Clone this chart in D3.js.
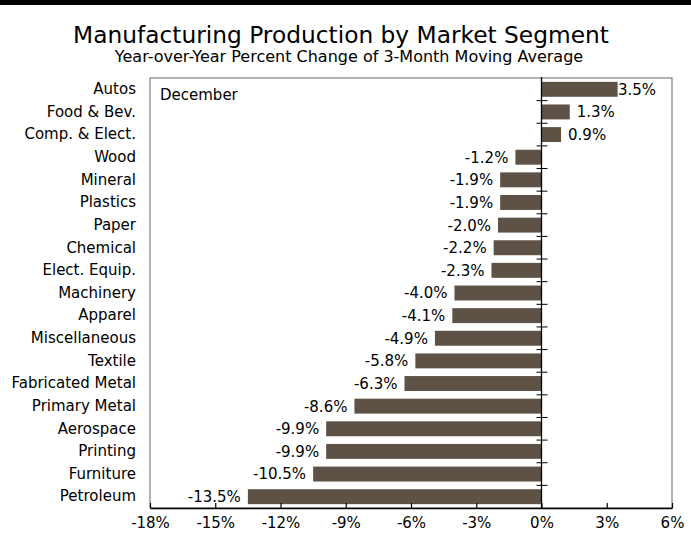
<!DOCTYPE html>
<html>
<head>
<meta charset="utf-8">
<script src="https://cdn.jsdelivr.net/npm/d3@7"></script>
<style>
  body { margin: 0; background: #fff; }
  svg { display: block; }
  svg text { font-family: "DejaVu Sans", Verdana, sans-serif; fill: #000; }
</style>
</head>
<body>
<svg id="chart" width="691" height="535"></svg>
<script>
// chart data, top to bottom
var segments = ["Autos", "Food & Bev.", "Comp. & Elect.", "Wood", "Mineral", "Plastics",
    "Paper", "Chemical", "Elect. Equip.", "Machinery", "Apparel", "Miscellaneous",
    "Textile", "Fabricated Metal", "Primary Metal", "Aerospace", "Printing",
    "Furniture", "Petroleum"];
var changes = [3.5, 1.3, 0.9, -1.2, -1.9, -1.9, -2.0, -2.2, -2.3, -4.0, -4.1, -4.9,
    -5.8, -6.3, -8.6, -9.9, -9.9, -10.5, -13.5];
var xTicks = [-18, -15, -12, -9, -6, -3, 0, 3, 6];

var svg = d3.select("#chart");
var margin = {top: 78, right: 19, bottom: 27, left: 150};
var width = 691 - margin.left - margin.right;
var height = 535 - margin.top - margin.bottom;
var labelSize = "15px";

// black rule along the top
svg.append("line")
    .attr("x1", 0).attr("x2", 691)
    .attr("y1", 2.5).attr("y2", 2.5)
    .attr("stroke", "#000").attr("stroke-width", 5);

svg.append("text")
    .attr("x", 341).attr("y", 43)
    .attr("text-anchor", "middle")
    .style("font-size", "23.3px")
    .text("Manufacturing Production by Market Segment");
svg.append("text")
    .attr("x", 349).attr("y", 62)
    .attr("text-anchor", "middle")
    .style("font-size", "16px")
    .text("Year-over-Year Percent Change of 3-Month Moving Average");

var g = svg.append("g").attr("transform", "translate(" + margin.left + "," + margin.top + ")");

var x = d3.scaleLinear().domain([-18, 6]).range([0, width]);
var y = d3.scaleBand().domain(segments).range([0, height]).paddingInner(0.34).paddingOuter(0.17);

// frame
g.append("rect")
    .attr("x", 0).attr("y", 0)
    .attr("width", width).attr("height", height)
    .attr("fill", "none")
    .attr("stroke", "#808080")
    .attr("stroke-width", 1.2);

g.append("text")
    .attr("x", 10).attr("y", 22)
    .style("font-size", labelSize)
    .text("December");

// bars
g.selectAll("rect.bar")
    .data(changes)
    .enter().append("rect")
    .attr("class", "bar")
    .attr("x", function (d) { return x(Math.min(0, d)); })
    .attr("y", function (d, i) { return y(segments[i]); })
    .attr("width", function (d) { return Math.abs(x(d) - x(0)); })
    .attr("height", y.bandwidth())
    .attr("fill", "#5e5246");

// value labels
g.selectAll("text.val")
    .data(changes)
    .enter().append("text")
    .attr("class", "val")
    .attr("x", function (d) { return d < 0 ? x(d) - 7 : Math.min(x(d) + 7, width - 54); })
    .attr("y", function (d, i) { return y(segments[i]) + y.bandwidth() / 2; })
    .attr("dy", "0.36em")
    .attr("text-anchor", function (d) { return d < 0 ? "end" : "start"; })
    .style("font-size", labelSize)
    .text(function (d) { return d.toFixed(1) + "%"; });

// category labels
var yAxis = g.append("g")
    .call(d3.axisLeft(y).tickSize(0).tickPadding(14));
yAxis.attr("font-family", null).attr("font-size", null);
yAxis.select(".domain").remove();
yAxis.selectAll("text").style("font-size", labelSize);

// zero line with band separators
g.append("line")
    .attr("x1", x(0)).attr("x2", x(0))
    .attr("y1", -1).attr("y2", height)
    .attr("stroke", "#000").attr("stroke-width", 1.3);
var step = y.step();
g.selectAll("line.sep")
    .data(d3.range(1, segments.length))
    .enter().append("line")
    .attr("class", "sep")
    .attr("x1", x(0) - 5).attr("x2", x(0) + 6)
    .attr("y1", function (i) { return y(segments[i]) - y.paddingInner() * step / 2; })
    .attr("y2", function (i) { return y(segments[i]) - y.paddingInner() * step / 2; })
    .attr("stroke", "#000").attr("stroke-width", 1);

// bottom axis
var xAxis = g.append("g")
    .attr("transform", "translate(0," + height + ")")
    .call(d3.axisBottom(x).tickValues(xTicks).tickSizeInner(-5).tickSizeOuter(0).tickPadding(9)
        .tickFormat(function (d) { return d + "%"; }));
xAxis.attr("font-family", null).attr("font-size", null);
xAxis.select(".domain").attr("stroke-width", 1.3);
xAxis.selectAll("text").style("font-size", labelSize);
xAxis.selectAll(".tick line").attr("stroke-width", 1.2);
</script>
</body>
</html>
